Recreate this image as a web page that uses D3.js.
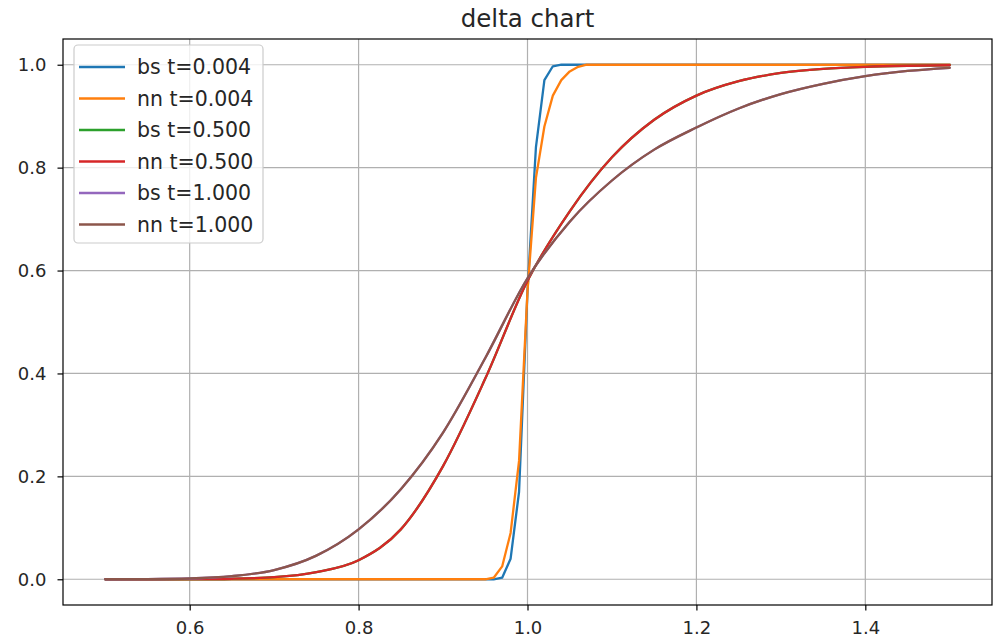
<html>
<head>
  <style>
    body { margin: 0; background: #fff; }
    text { font-family: "DejaVu Sans", sans-serif; fill: #262626; }
    .grid line { stroke: #b0b0b0; stroke-width: 1.2; }
    .curve { fill: none; stroke-width: 2.3; stroke-linejoin: round; stroke-linecap: round; }
  </style>
  <script type="text/javascript" src="https://d3js.org/d3.v7.min.js"></script>
</head>
<body>
<div id="chart"></div>
<script>
  // x positions for the smooth curves and for the steep short-dated ones
  var xWide = [0.50, 0.55, 0.60, 0.65, 0.70, 0.75, 0.80, 0.85, 0.90, 0.95, 1.00,
               1.05, 1.10, 1.15, 1.20, 1.25, 1.30, 1.35, 1.40, 1.45, 1.50];
  var xNarrow = [0.50, 0.90, 0.95, 0.96, 0.97, 0.98, 0.99, 1.00, 1.01, 1.02,
                 1.03, 1.04, 1.05, 1.06, 1.07, 1.10, 1.50];

  var bs004 = [0, 0, 0, 0, 0.003, 0.04, 0.17, 0.56, 0.84, 0.97, 0.997, 1, 1, 1, 1, 1, 1];
  var nn004 = [0, 0, 0, 0.003, 0.025, 0.09, 0.23, 0.56, 0.78, 0.88, 0.94, 0.97, 0.987, 0.996, 1, 1, 1];
  var bs050 = [0, 0, 0.0002, 0.001, 0.004, 0.014, 0.037, 0.097, 0.22, 0.39, 0.58,
               0.715, 0.82, 0.893, 0.94, 0.968, 0.984, 0.992, 0.996, 0.998, 0.999];
  var nn050 = [0, 0, 0.0002, 0.001, 0.004, 0.014, 0.037, 0.097, 0.22, 0.39, 0.58,
               0.715, 0.82, 0.893, 0.94, 0.968, 0.984, 0.992, 0.996, 0.998, 0.999];
  var bs100 = [0, 0.0003, 0.0015, 0.006, 0.018, 0.046, 0.097, 0.175, 0.285, 0.43, 0.585,
               0.695, 0.775, 0.835, 0.878, 0.915, 0.943, 0.963, 0.978, 0.988, 0.994];
  var nn100 = [0, 0.0003, 0.0015, 0.006, 0.018, 0.046, 0.097, 0.175, 0.285, 0.43, 0.585,
               0.695, 0.775, 0.835, 0.878, 0.915, 0.943, 0.963, 0.978, 0.988, 0.994];

  var labels = ["bs t=0.004", "nn t=0.004", "bs t=0.500", "nn t=0.500", "bs t=1.000", "nn t=1.000"];
  var colors = ["#1f77b4", "#ff7f0e", "#2ca02c", "#d62728", "#9467bd", "#8c564b"];
  var xTicks = [0.6, 0.8, 1.0, 1.2, 1.4];
  var yTicks = [0.0, 0.2, 0.4, 0.6, 0.8, 1.0];

  var series = [
    {xs: xNarrow, ys: bs004, smooth: false},
    {xs: xNarrow, ys: nn004, smooth: false},
    {xs: xWide, ys: bs050, smooth: true},
    {xs: xWide, ys: nn050, smooth: true},
    {xs: xWide, ys: bs100, smooth: true},
    {xs: xWide, ys: nn100, smooth: true}
  ];

  var W = 999, H = 639;
  var pL = 63, pR = 992, pT = 39, pB = 605;

  var x = d3.scaleLinear().domain([0.45, 1.55]).range([pL, pR]);
  var y = d3.scaleLinear().domain([-0.05, 1.05]).range([pB, pT]);

  var svg = d3.select("#chart").append("svg")
      .attr("width", W)
      .attr("height", H);

  // grid
  var grid = svg.append("g").attr("class", "grid");
  grid.selectAll(".gx").data(xTicks).enter().append("line")
      .attr("x1", d => x(d)).attr("x2", d => x(d))
      .attr("y1", pT).attr("y2", pB);
  grid.selectAll(".gy").data(yTicks).enter().append("line")
      .attr("x1", pL).attr("x2", pR)
      .attr("y1", d => y(d)).attr("y2", d => y(d));

  // curves
  var plot = svg.append("g");
  series.forEach(function(s, i) {
    var pts = s.xs.map((v, j) => [v, s.ys[j]]);
    var line = d3.line()
        .x(d => x(d[0]))
        .y(d => y(d[1]))
        .curve(s.smooth ? d3.curveMonotoneX : d3.curveLinear);
    plot.append("path")
        .datum(pts)
        .attr("class", "curve")
        .attr("stroke", colors[i])
        .attr("d", line);
  });

  // axes
  var xAxis = d3.axisBottom(x).tickValues(xTicks).tickFormat(d3.format(".1f"))
      .tickSizeInner(5.5).tickSizeOuter(0).tickPadding(11);
  var yAxis = d3.axisLeft(y).tickValues(yTicks).tickFormat(d3.format(".1f"))
      .tickSizeInner(5.5).tickSizeOuter(0).tickPadding(11);

  var gx = svg.append("g")
      .attr("transform", "translate(0," + pB + ")")
      .call(xAxis);
  var gy = svg.append("g")
      .attr("transform", "translate(" + pL + ",0)")
      .call(yAxis);
  [gx, gy].forEach(function(g) {
    g.select(".domain").remove();
    g.selectAll(".tick line").attr("stroke", "#000").attr("stroke-width", 1.2);
    g.selectAll(".tick text")
        .style("font-family", "'DejaVu Sans', sans-serif")
        .style("font-size", "18px")
        .attr("fill", "#262626");
  });

  // frame
  svg.append("rect")
      .attr("x", pL).attr("y", pT)
      .attr("width", pR - pL).attr("height", pB - pT)
      .attr("fill", "none")
      .attr("stroke", "#000")
      .attr("stroke-width", 1.2);

  // title
  svg.append("text")
      .attr("x", (pL + pR) / 2)
      .attr("y", 27)
      .attr("text-anchor", "middle")
      .style("font-size", "24.5px")
      .text("delta chart");

  // legend
  var lg = svg.append("g");
  lg.append("rect")
      .attr("x", 74).attr("y", 45)
      .attr("width", 189).attr("height", 198)
      .attr("rx", 4)
      .attr("fill", "#fff").attr("fill-opacity", 0.8)
      .attr("stroke", "#cccccc").attr("stroke-width", 1.2);
  var rows = lg.selectAll(".row").data(labels).enter().append("g")
      .attr("transform", (d, i) => "translate(0," + (67 + i * 31.5) + ")");
  rows.append("line")
      .attr("x1", 79).attr("x2", 125)
      .attr("stroke", (d, i) => colors[i])
      .attr("stroke-width", 2.3);
  rows.append("text")
      .attr("x", 137)
      .attr("dy", "0.36em")
      .style("font-size", "20.5px")
      .text(d => d);
</script>
</body>
</html>
